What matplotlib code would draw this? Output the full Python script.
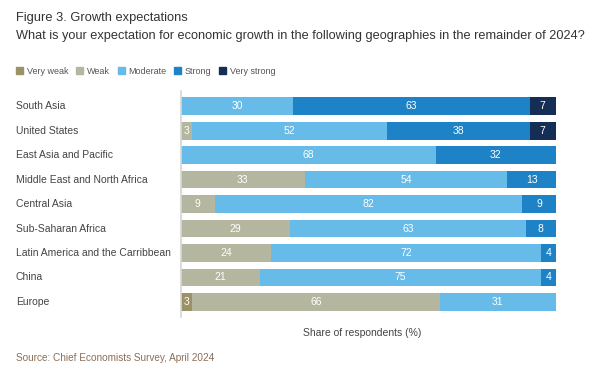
import matplotlib.pyplot as plt
from matplotlib.patches import Patch
from matplotlib.transforms import blended_transform_factory

regions = ["South Asia", "United States", "East Asia and Pacific",
           "Middle East and North Africa", "Central Asia", "Sub-Saharan Africa",
           "Latin America and the Carribbean", "China", "Europe"]
very_weak = [0, 0, 0, 0, 0, 0, 0, 0, 3]
weak = [0, 3, 0, 33, 9, 29, 24, 21, 66]
moderate = [30, 52, 68, 54, 82, 63, 72, 75, 31]
strong = [63, 38, 32, 13, 9, 8, 4, 4, 0]
very_strong = [7, 7, 0, 0, 0, 0, 0, 0, 0]

series = [("Very weak", very_weak, "#9b9366"),
          ("Weak", weak, "#b5b6a0"),
          ("Moderate", moderate, "#66bbe8"),
          ("Strong", strong, "#1e83c6"),
          ("Very strong", very_strong, "#142e55")]

plt.rcParams['font.family'] = ['Liberation Sans', 'DejaVu Sans']

fig = plt.figure(figsize=(6.01, 3.73), dpi=100)
ax = fig.add_axes([0.301, 0.151, 0.624, 0.604])

y = list(range(len(regions)))
left = [0] * len(regions)
for name, vals, col in series:
    bars = ax.barh(y, vals, left=left, height=0.73, color=col, label=name)
    for b, v in zip(bars, vals):
        if v > 0:
            ax.text(b.get_x() + b.get_width() / 2, b.get_y() + b.get_height() / 2,
                    str(v), ha='center', va='center', color='white', fontsize=7.5)
    left = [l + v for l, v in zip(left, vals)]

ax.set_xlim(0, 100)
ax.set_ylim(8.6, -0.6)
ax.set_xticks([])
ax.set_yticks([])
for s in ['top', 'right', 'bottom']:
    ax.spines[s].set_visible(False)
ax.spines['left'].set_color('#d6d6d6')
ax.spines['left'].set_linewidth(1.2)
ax.set_xlabel("Share of respondents (%)", fontsize=7.5, color='#444444')
ax.xaxis.set_label_coords(0.483, -0.05)

tr = blended_transform_factory(fig.transFigure, ax.transData)
for i, r in enumerate(regions):
    ax.text(16 / 601, i, r, transform=tr, ha='left', va='center', fontsize=7.5, color='#444444')

fig.text(16 / 601, 1 - 21 / 373, "Figure 3. Growth expectations", fontsize=9.3, color='#333333', va='baseline')
fig.text(16 / 601, 1 - 39 / 373,
         "What is your expectation for economic growth in the following geographies in the remainder of 2024?",
         fontsize=9.2, color='#333333', va='baseline')
fig.text(16 / 601, 1 - 361 / 373, "Source: Chief Economists Survey, April 2024",
         fontsize=7.2, color='#8a6e58', va='baseline')

handles = [Patch(color=c, label=n) for n, _, c in series]
fig.legend(handles=handles, loc='center left', bbox_to_anchor=(8 / 601, 1 - 71 / 373),
           ncol=5, frameon=False, fontsize=6.5, handlelength=0.8, handleheight=0.8,
           handletextpad=0.4, columnspacing=0.85, labelcolor='#555555')

fig.savefig("out.png", dpi=100)
